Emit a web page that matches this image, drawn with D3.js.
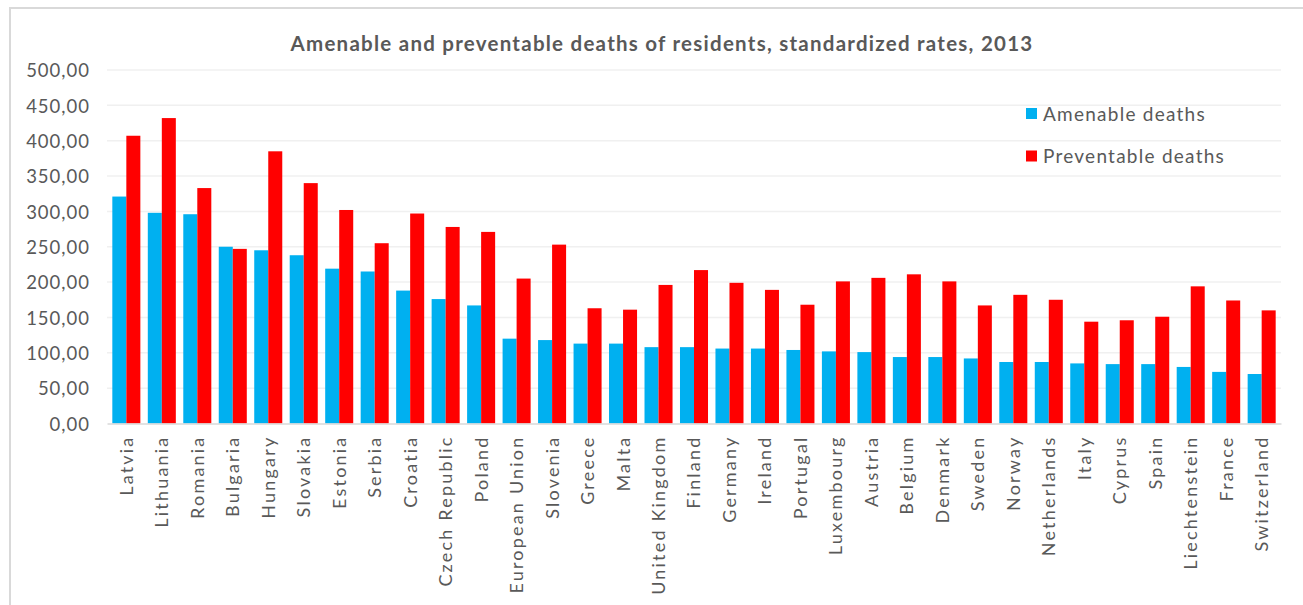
<!DOCTYPE html>
<html>
<head>
<meta charset="utf-8">
<script src="https://cdn.jsdelivr.net/npm/d3@7"></script>
<style>
    body { margin: 0; background: #fff; }
    svg text { font-family: Lato, "Open Sans", sans-serif; fill: #595959; }
</style>
</head>
<body>
<svg id="chart" width="1303" height="605"></svg>
<script>

// data
const countries = [
    "Latvia", "Lithuania", "Romania", "Bulgaria", "Hungary", "Slovakia", "Estonia",
    "Serbia", "Croatia", "Czech Republic", "Poland", "European Union", "Slovenia",
    "Greece", "Malta", "United Kingdom", "Finland", "Germany", "Ireland", "Portugal",
    "Luxembourg", "Austria", "Belgium", "Denmark", "Sweden", "Norway", "Netherlands",
    "Italy", "Cyprus", "Spain", "Liechtenstein", "France", "Switzerland"
];

const amenable = [
    321, 298, 296, 250, 245, 238, 219, 215, 188, 176, 167, 120, 118,
    113, 113, 108, 108, 106, 106, 104, 102, 101, 94, 94, 92, 87, 87,
    85, 84, 84, 80, 73, 70
];

const preventable = [
    407, 432, 333, 247, 385, 340, 302, 255, 297, 278, 271, 205, 253,
    163, 161, 196, 217, 199, 189, 168, 201, 206, 211, 201, 167, 182, 175,
    144, 146, 151, 194, 174, 160
];

const seriesNames = ["Amenable deaths", "Preventable deaths"];
const seriesColors = ["#00B0F0", "#FF0000"];
const yTicks = [0, 50, 100, 150, 200, 250, 300, 350, 400, 450, 500];

const svg = d3.select("#chart");

// frame
svg.append("path")
    .attr("d", "M10,606 L10,8 L1304,8")
    .attr("fill", "none")
    .attr("stroke", "#D9D9D9")
    .attr("stroke-width", 2);

const x0 = d3.scaleBand()
    .domain(countries)
    .range([107, 1281])
    .paddingInner(0.21)
    .paddingOuter(0.15);

const x1 = d3.scaleBand()
    .domain(seriesNames)
    .range([0, x0.bandwidth()]);

const y = d3.scaleLinear()
    .domain([0, 500])
    .range([423.5, 70]);

const fmt = v => d3.format(".2f")(v).replace(".", ",");

// grid
svg.append("g")
    .selectAll("line")
    .data(yTicks.slice(1))
    .enter()
    .append("line")
    .attr("x1", 107)
    .attr("x2", 1281)
    .attr("y1", d => y(d))
    .attr("y2", d => y(d))
    .attr("stroke", "#F0F0F0")
    .attr("stroke-width", 1.5);

// y axis labels
let yAxis = svg.append("g")
    .attr("transform", "translate(90,0)")
    .call(d3.axisLeft(y).tickValues(yTicks).tickFormat(fmt).tickSize(0).tickPadding(0));
yAxis.select(".domain").remove();
yAxis.selectAll("text")
    .style("font-size", "18.5px")
    .style("letter-spacing", "1px")
    .attr("dy", "0.36em");

// bars
const rows = countries.map((c, i) => ({ name: c, values: [amenable[i], preventable[i]] }));

svg.append("g")
    .selectAll("g")
    .data(rows)
    .enter()
    .append("g")
    .attr("transform", d => `translate(${x0(d.name)},0)`)
    .selectAll("rect")
    .data(d => d.values.map((v, k) => ({ key: seriesNames[k], value: v, k })))
    .enter()
    .append("rect")
    .attr("x", d => x1(d.key))
    .attr("width", x1.bandwidth())
    .attr("y", d => y(d.value))
    .attr("height", d => y(0) - y(d.value))
    .attr("fill", d => seriesColors[d.k]);

// x axis
let xAxis = svg.append("g")
    .attr("transform", `translate(0,${y(0)})`)
    .call(d3.axisBottom(x0).tickSize(0).tickPadding(0));
xAxis.select(".domain")
    .attr("stroke", "#D9D9D9")
    .attr("stroke-width", 1.5);
xAxis.selectAll("text")
    .style("font-size", "18px")
    .style("letter-spacing", "2.2px")
    .attr("transform", "rotate(-90)")
    .attr("text-anchor", "end")
    .attr("x", -12)
    .attr("y", 0)
    .attr("dy", "0.36em");

// title
svg.append("text")
    .attr("x", 662)
    .attr("y", 51)
    .attr("text-anchor", "middle")
    .style("font-size", "20.5px")
    .style("font-weight", "bold")
    .style("letter-spacing", "1.25px")
    .text("Amenable and preventable deaths of residents, standardized rates, 2013");

// legend
let legend = svg.append("g")
    .selectAll("g")
    .data(seriesNames)
    .enter()
    .append("g")
    .attr("transform", (d, i) => `translate(1026,${108 + i * 42.5})`);

legend.append("rect")
    .attr("width", 11)
    .attr("height", 11)
    .attr("fill", (d, i) => seriesColors[i]);

legend.append("text")
    .attr("x", 17)
    .attr("y", 6)
    .attr("dy", "0.36em")
    .style("font-size", "19px")
    .style("letter-spacing", "1.25px")
    .text(d => d);

</script>
</body>
</html>
